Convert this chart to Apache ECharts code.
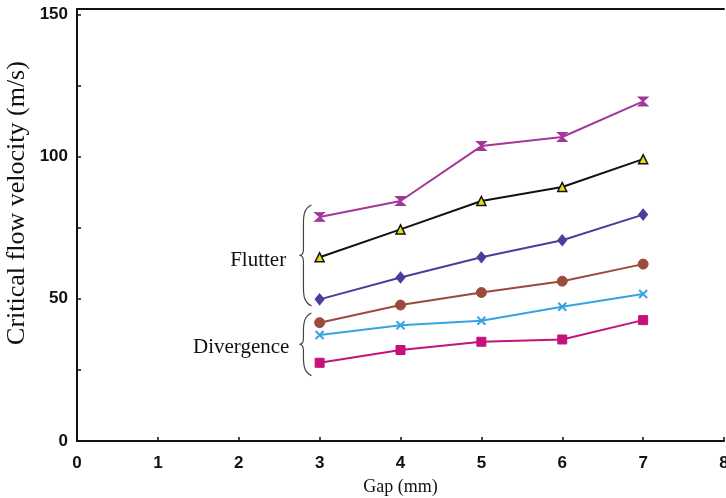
<!DOCTYPE html>
<html>
<head>
<meta charset="utf-8">
<script src="https://cdn.jsdelivr.net/npm/echarts@6/dist/echarts.min.js"></script>
<style>html,body{margin:0;padding:0;background:#fff}#c{width:726px;height:498px}</style>
</head>
<body>
<div id="c"></div>
<script>
const gaps = [3, 4, 5, 6, 7];
const flutterA = [78.8, 84.4, 103.7, 106.9, 119.4];   // magenta hourglass
const flutterB = [64.6, 74.4, 84.4, 89.3, 99.1];      // black / yellow triangles
const flutterC = [49.8, 57.5, 64.6, 70.6, 79.6];      // blue diamonds
const divA = [41.6, 47.8, 52.2, 56.2, 62.2];          // brown circles
const divB = [37.3, 40.7, 42.3, 47.2, 51.7];          // cyan crosses
const divC = [27.5, 32.0, 34.9, 35.7, 42.5];          // pink squares
const xTicks = [0, 1, 2, 3, 4, 5, 6, 7, 8];
const yLabels = [0, 50, 100, 150];
const yTicks = [0, 25, 50, 75, 100, 125, 150];
// annotation braces in data units: [x, yTop, yBottom]
const braces = [[2.8, 83, 47.5], [2.8, 45, 23.0]];
// annotation texts: [x, y, text]
const notes = [[2.24, 63.5, 'Flutter'], [2.03, 33, 'Divergence']];

const pair = arr => gaps.map((g, i) => [g, arr[i]]);
const serif = 'Liberation Serif, Times New Roman, serif';
const sans = 'Liberation Sans, Arial, sans-serif';

const chart = echarts.init(document.getElementById('c'));
function mk(name, data, color, symbol, size, extra) {
  return Object.assign({
    name, type: 'line', data: pair(data), symbol, symbolSize: size,
    lineStyle: { color, width: 2 },
    itemStyle: { color, borderColor: color, borderWidth: 1 },
    z: 3
  }, extra || {});
}
function bracePath(x, t, bt) {
  const m = (t + bt) / 2, w = 8;
  return `M${x + w},${t} C${x + 1},${t + 3} ${x},${t + 10} ${x},${t + 18} L${x},${m - 6} C${x},${m - 2} ${x - 2},${m} ${x - 4},${m} C${x - 2},${m} ${x},${m + 2} ${x},${m + 6} L${x},${bt - 18} C${x},${bt - 10} ${x + 1},${bt - 3} ${x + w},${bt}`;
}
const option = {
  animation: false,
  grid: { left: 77, right: 2, top: 9, bottom: 57, outerBoundsMode: 'none', containLabel: false },
  xAxis: [{
    type: 'value', min: 0, max: 8, interval: 1,
    axisLine: { lineStyle: { color: '#111', width: 2 } },
    axisTick: { inside: true, length: 4, lineStyle: { color: '#111', width: 1.5 } },
    axisLabel: { color: '#111', fontSize: 17, fontWeight: 'bold', fontFamily: sans, margin: 14 },
    splitLine: { show: false },
    name: 'Gap (mm)', nameLocation: 'middle', nameGap: 37, nameMoveOverlap: false,
    nameTextStyle: { fontFamily: serif, fontSize: 18, color: '#111' }
  }, {
    type: 'value', position: 'top', min: 0, max: 8,
    axisLine: { show: true, onZero: false, lineStyle: { color: '#111', width: 2 } },
    axisTick: { show: false }, axisLabel: { show: false }, splitLine: { show: false }
  }],
  yAxis: {
    type: 'value', min: 0, max: 151.9,
    axisLine: { show: true, lineStyle: { color: '#111', width: 2 } },
    axisTick: { inside: true, length: 4, customValues: yTicks, lineStyle: { color: '#111', width: 1.5 } },
    axisLabel: { customValues: yLabels, color: '#111', fontSize: 17, fontWeight: 'bold', fontFamily: sans, margin: 9 },
    splitLine: { show: false },
    name: 'Critical flow velocity (m/s)', nameLocation: 'middle', nameGap: 47, nameMoveOverlap: false,
    nameTextStyle: { fontFamily: serif, fontSize: 26, color: '#111', padding: [0, 0, 0, 44] }
  },
  series: [
    mk('F1', flutterA, '#a2389a', 'path://M0,0L10,0L0,10L10,10Z', [10, 9]),
    mk('F2', flutterB, '#111111', 'triangle', 9, { itemStyle: { color: '#e6dc10', borderColor: '#111', borderWidth: 1.5 } }),
    mk('F3', flutterC, '#4b3d9c', 'diamond', [9, 11]),
    mk('D1', divA, '#9b4b3c', 'circle', 10),
    mk('D2', divB, '#35a4e0', 'path://M0,0L10,10M10,0L0,10', 8, { itemStyle: { color: 'none', borderColor: '#35a4e0', borderWidth: 2 } }),
    mk('D3', divC, '#c4127c', 'rect', 9),
    {
      type: 'custom', data: braces, silent: true, z: 2,
      renderItem: (params, api) => {
        const p1 = api.coord([api.value(0), api.value(1)]);
        const p2 = api.coord([api.value(0), api.value(2)]);
        return { type: 'path', shape: { pathData: bracePath(p1[0], p1[1], p2[1]) },
                 style: { fill: 'none', stroke: '#444', lineWidth: 1.2 } };
      }
    },
    {
      type: 'custom', data: notes, silent: true, z: 2,
      encode: { x: 0, y: 1 },
      renderItem: (params, api) => {
        const p = api.coord([api.value(0), api.value(1)]);
        return { type: 'text', x: p[0], y: p[1],
                 style: { text: notes[params.dataIndex][2], font: '21px ' + serif, fill: '#111', align: 'center', verticalAlign: 'middle' } };
      }
    }
  ]
};
chart.setOption(option);
</script>
</body>
</html>
